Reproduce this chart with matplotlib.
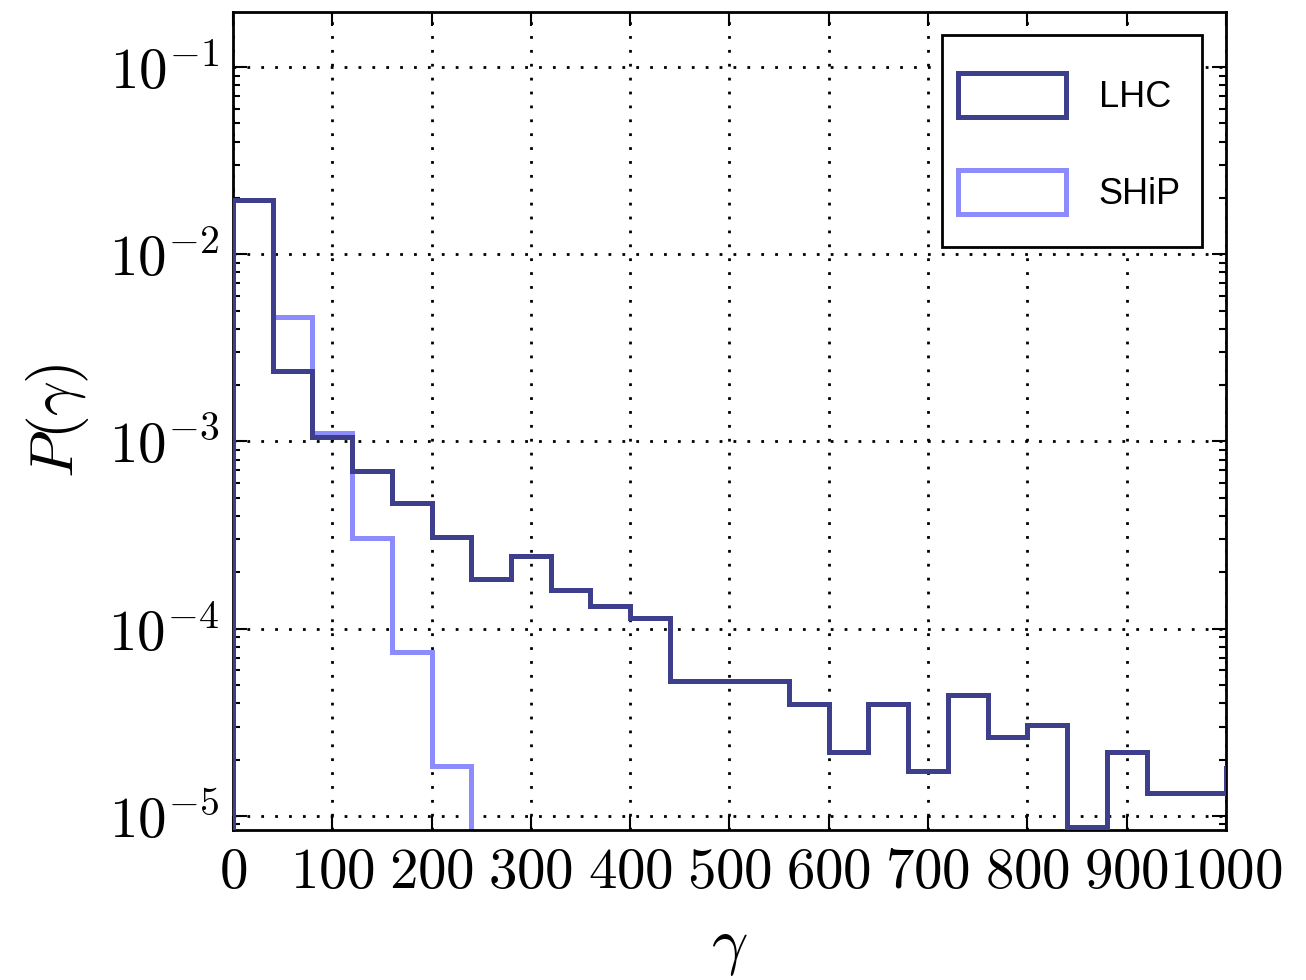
import numpy as np
import matplotlib
matplotlib.use("Agg")
import matplotlib.pyplot as plt
from matplotlib import ticker
from matplotlib.patches import Rectangle

plt.rcParams.update({
    "mathtext.fontset": "cm",
    "font.family": "serif",
})

# bin edges in gamma (width 40)
lhc_edges = np.arange(0, 1041, 40)
lhc_vals = [1.95e-2, 2.38e-3, 1.06e-3, 6.95e-4, 4.7e-4, 3.09e-4, 1.85e-4, 2.45e-4,
            1.61e-4, 1.32e-4, 1.14e-4, 5.26e-5, 5.26e-5, 5.26e-5, 3.96e-5, 2.2e-5,
            3.96e-5, 1.74e-5, 4.43e-5, 2.64e-5, 3.06e-5, 8.7e-6, 2.2e-5, 1.33e-5,
            1.33e-5, 1.8e-5]
ship_edges = np.arange(0, 241, 40)
ship_vals = [1.95e-2, 4.65e-3, 1.11e-3, 3.05e-4, 7.52e-5, 1.85e-5]

lhc_col = "#3d3f8c"
ship_col = "#8c8cff"

fig = plt.figure(figsize=(13.06, 9.8), dpi=100)
ax = fig.add_axes([0.1784, 0.153, 0.7603, 0.8348])

ax.hist(lhc_edges[:-1], bins=lhc_edges, weights=lhc_vals, histtype="step",
        color=lhc_col, linewidth=3.6, label="LHC", log=True, zorder=3)
ax.hist(ship_edges[:-1], bins=ship_edges, weights=ship_vals, histtype="step",
        color=ship_col, linewidth=3.6, label="SHiP", log=True, zorder=2)

ax.set_xlim(0, 1000)
ax.set_ylim(8.4e-6, 0.197)
ax.set_xticks(np.arange(0, 1001, 100))
ax.xaxis.set_major_formatter(ticker.FuncFormatter(lambda v, p: r"$%d$" % v))
ax.yaxis.set_major_locator(ticker.LogLocator(base=10, numticks=10))
ax.yaxis.set_major_formatter(ticker.FuncFormatter(lambda v, p: r"$10^{%d}$" % round(np.log10(v))))
ax.yaxis.set_minor_locator(ticker.LogLocator(base=10, subs=np.arange(2, 10), numticks=20))
ax.yaxis.set_minor_formatter(ticker.NullFormatter())

ax.tick_params(which="both", direction="in", top=True, right=True, width=1.5)
ax.tick_params(which="major", length=10, labelsize=41, pad=10)
ax.tick_params(which="minor", length=5)
for s in ax.spines.values():
    s.set_linewidth(2)

ax.grid(True, which="major", color="black", linestyle=(0, (1, 4)), linewidth=2)
ax.set_axisbelow(True)

ax.set_xlabel(r"$\gamma$", fontsize=46, labelpad=12)
ax.set_ylabel(r"$P(\gamma)$", fontsize=44, labelpad=12)

# legend box drawn separately so padding matches
box = Rectangle((0.714, 0.713), 0.262, 0.259, transform=ax.transAxes,
                facecolor="white", edgecolor="black", linewidth=2, zorder=4)
ax.add_patch(box)
leg = ax.legend(loc="upper left", bbox_to_anchor=(0.730, 0.925), frameon=False,
                prop={"family": "Liberation Sans", "size": 26},
                handlelength=3.0, handleheight=1.5, labelspacing=1.45, handletextpad=0.9,
                borderpad=0, borderaxespad=0)
leg.set_zorder(5)

plt.savefig("out.png", dpi=100)
